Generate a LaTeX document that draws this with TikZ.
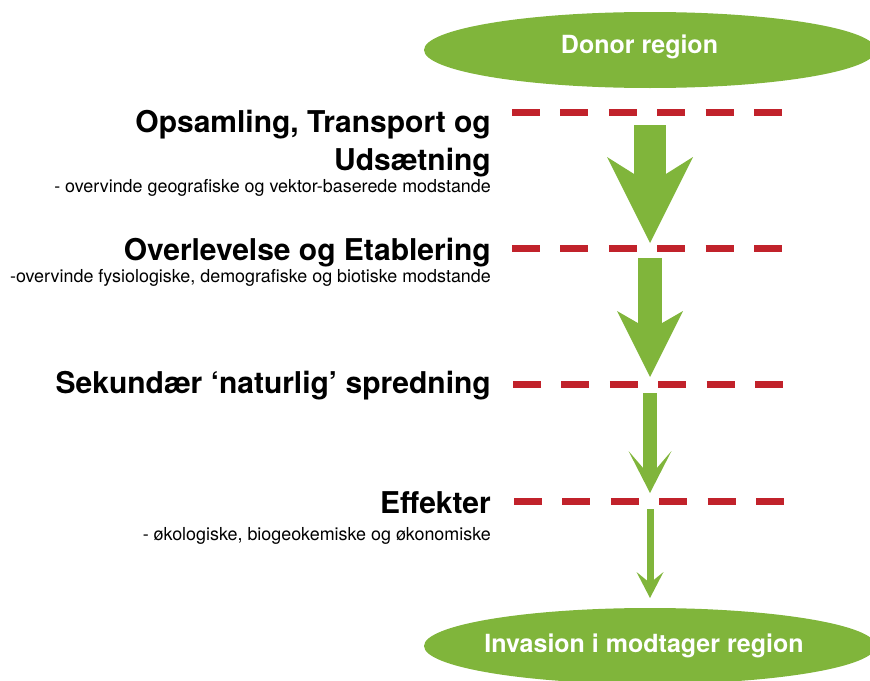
\documentclass[tikz,border=0pt]{standalone}
\usepackage{fontspec}
\setmainfont{TeX Gyre Heros}
\usetikzlibrary{arrows.meta,shapes.geometric,positioning}

\definecolor{leafgreen}{RGB}{128,181,59}
\definecolor{barrierred}{RGB}{193,34,43}

\tikzset{
  region/.style={ellipse, fill=leafgreen, minimum width=452pt, minimum height=76pt, inner sep=0pt},
  regionlabel/.style={text=white, inner sep=0pt, font=\fontsize{25}{30}\selectfont\bfseries},
  stage/.style={anchor=base east, inner sep=0pt, font=\fontsize{30}{36}\selectfont\bfseries},
  note/.style={anchor=base east, inner sep=0pt, font=\fontsize{17.9}{21}\selectfont},
  barrier/.style={barrierred, line width=7pt, dash pattern=on 28pt off 20.4pt},
  flow/.style n args={4}{leafgreen, line width=#1,
    -{Stealth[length=#2, width=#3, inset=#4, line width=0pt]}},
}

\begin{document}
\begin{tikzpicture}[x=1pt, y=-1pt]
    \useasboundingbox (0,0) rectangle (870,680);
    \clip (0,0) rectangle (870,680);

    % start and end regions
    \node[region] (donor) at (650,50) {};
    \node[regionlabel, xshift=-10.5pt, yshift=3pt] (donortext) at (donor) {Donor region};
    \node[region] (invasion) at (650,646) {};
    \node[regionlabel, xshift=-6pt] (invasiontext) at (invasion) {Invasion i modtager region};

    % stages with their barriers
    \node[stage] (transport) at (491,132) {Opsamling, Transport og};
    \node[stage] (transport2) at (491,170) {Udsætning};
    \node[note] (transportnote) at (491,192) {- overvinde geografiske og vektor-baserede modstande};
    \node[stage] (establish) at (491,260) {Overlevelse og Etablering};
    \node[note] (establishnote) at (491,282) {-overvinde fysiologiske, demografiske og biotiske modstande};
    \node[stage] (spread) at (491,393) {Sekundær ‘naturlig’ spredning};
    \node[stage] (impact) at (491,513) {Effekter};
    \node[note] (impactnote) at (491,540) {- økologiske, biogeokemiske og økonomiske};

    \foreach \y/\x in {112/512, 248/512, 384/513, 501/514}
      \draw[barrier] (\x,\y) -- ++(272,0);

    % arrows get thinner at every barrier
    \coordinate (top1) at (650,125);
    \coordinate (tip1) at (650,243);
    \coordinate (top2) at (650,258);
    \coordinate (tip2) at (650,377);
    \coordinate (top3) at (650,393);
    \coordinate (tip3) at (650,493);
    \coordinate (top4) at (650,509);
    \coordinate (tip4) at (650,598);

    \draw[flow={32pt}{86pt}{86pt}{27pt}] (top1) -- (tip1);
    \draw[flow={24pt}{66pt}{66pt}{19pt}] (top2) -- (tip2);
    \draw[flow={14pt}{42pt}{43pt}{25pt}] (top3) -- (tip3);
    \draw[flow={7pt}{26pt}{27pt}{11pt}] (top4) -- (tip4);
\end{tikzpicture}
\end{document}
